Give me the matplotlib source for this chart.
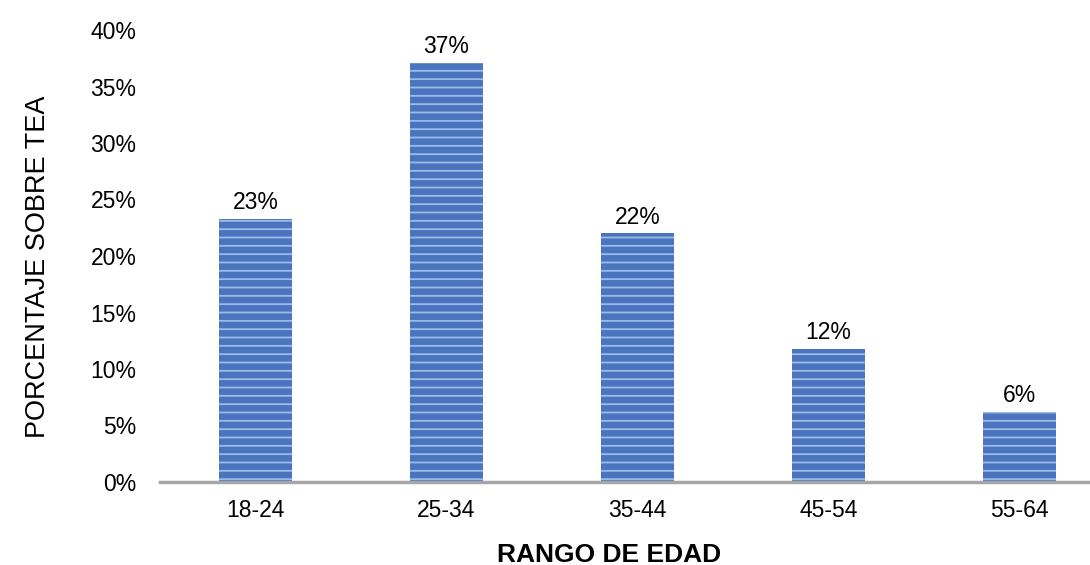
import matplotlib.pyplot as plt
import numpy as np

plt.rcParams['font.family'] = ['Liberation Sans', 'DejaVu Sans']
plt.rcParams['hatch.linewidth'] = 1.3

rangos = ['18-24', '25-34', '35-44', '45-54', '55-64']
valores = [23.3, 37.1, 22.0, 11.8, 6.2]
etiquetas = ['23%', '37%', '22%', '12%', '6%']
yticks = [0, 5, 10, 15, 20, 25, 30, 35, 40]

fig = plt.figure(figsize=(10.9, 5.65), dpi=100)
ax = fig.add_axes([160 / 1090, 83 / 565, 955 / 1090, 452 / 565])

x = np.arange(len(rangos))
bars = ax.bar(x, valores, width=0.377, color='#4a74bd', edgecolor='#9dbbe8',
              linewidth=0, hatch='--', zorder=2)

for b, lab in zip(bars, etiquetas):
    ax.text(b.get_x() + b.get_width() / 2, b.get_height() + 0.4, lab,
            ha='center', va='bottom', fontsize=16.5)

ax.set_xlim(-0.5, 4.5)
ax.set_ylim(0, 40)
ax.set_yticks(yticks)
ax.set_yticklabels([f'{v}%' for v in yticks])
ax.set_xticks(x)
ax.set_xticklabels(rangos)
ax.tick_params(axis='both', length=0, labelsize=16.5)
ax.tick_params(axis='y', pad=17)
ax.tick_params(axis='x', pad=12)

for s in ['top', 'right', 'left']:
    ax.spines[s].set_visible(False)
ax.spines['bottom'].set_color('#a6a6a6')
ax.spines['bottom'].set_linewidth(2.5)

fig.text(38 / 1090, 1 - 267 / 565, 'PORCENTAJE SOBRE TEA', rotation=90,
         ha='center', va='center', fontsize=19.5)
fig.text(609 / 1090, 1 - 555 / 565, 'RANGO DE EDAD', ha='center', va='center',
         fontsize=19, fontweight='bold')

fig.savefig('out.png', dpi=100)
